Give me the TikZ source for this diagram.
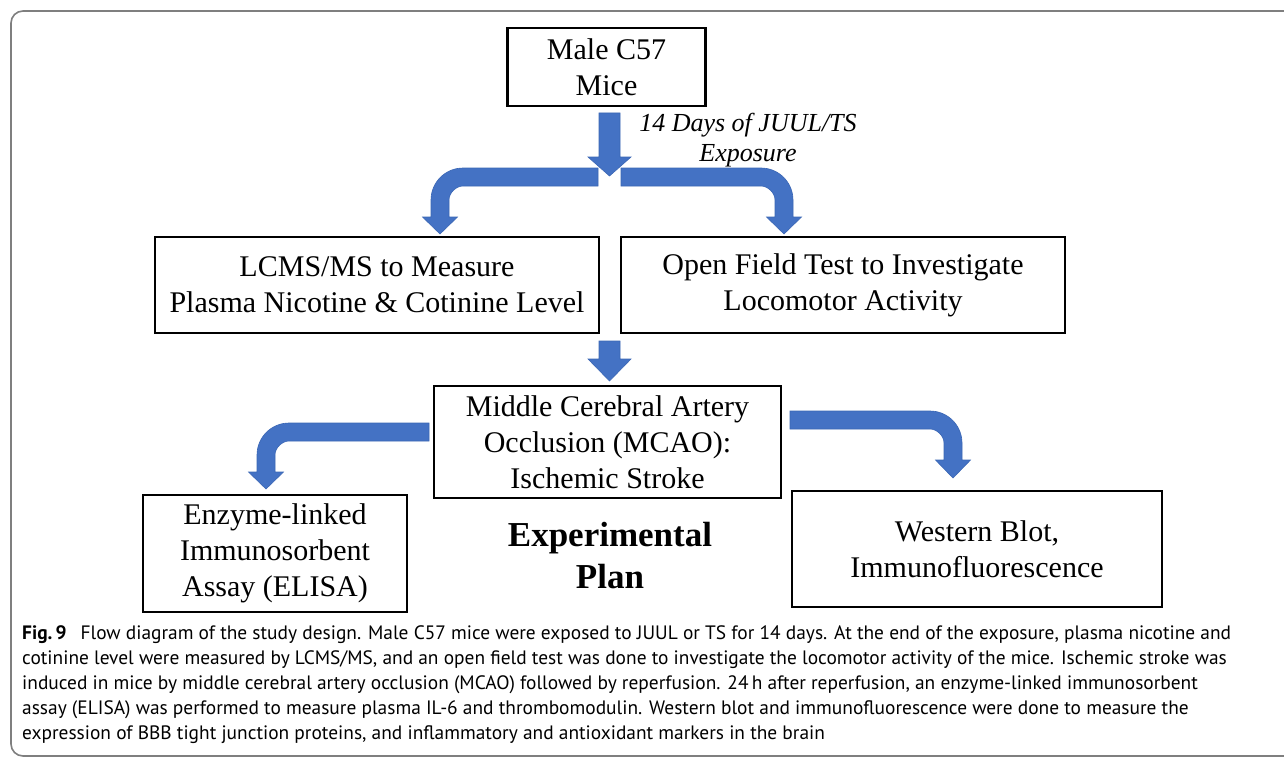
\documentclass[tikz,border=0pt]{standalone}
\usepackage{fontspec}
\setmainfont{Liberation Serif}
\newfontfamily\capfont{PT Sans}
\definecolor{arrowblue}{HTML}{4472C4}
\definecolor{arrowedge}{HTML}{3B67B5}
\definecolor{framegray}{HTML}{7F7F7F}
\tikzset{
  boxnode/.style={draw=black, line width=2.6pt, inner sep=0pt, align=center,
    font=\fontsize{30}{36}\selectfont},
  blockarrow/.style={fill=arrowblue, draw=arrowedge, line width=0.6pt, line join=miter},
  capline/.style={anchor=base west, inner sep=0pt, font=\capfont\fontsize{19.4}{25}\selectfont}
}
% straight down block arrow: #1 centre x, #2 top y, #3 head base y, #4 tip y, #5 half shaft, #6 half head
\newcommand\downarrowblock[6]{%
  \path[blockarrow] ({#1-#5},#2) -- ({#1+#5},#2) -- ({#1+#5},#3) -- ({#1+#6},#3) -- (#1,#4)
    -- ({#1-#6},#3) -- ({#1-#5},#3) -- cycle;}
% bent block arrow: #1 sign (-1 left, +1 right), #2 start x, #3 top y, #4 outer x, #5 head base y, #6 tip y
\newcommand\bentarrow[6]{%
  \path[blockarrow] (#2,#3) -- ({#4-#1*32},#3)
    .. controls ({#4-#1*14.3},#3) and (#4,{#3+14.3}) .. (#4,{#3+32})
    -- (#4,#5) -- ({#4+#1*8.5},#5) -- ({#4-#1*9},#6) -- ({#4-#1*26.5},#5) -- ({#4-#1*18},#5)
    -- ({#4-#1*18},{#3+18+14}) .. controls ({#4-#1*18},{#3+18+6.3}) and ({#4-#1*(18+7.7)},{#3+18}) .. ({#4-#1*(18+14)},{#3+18})
    -- (#2,{#3+18}) -- cycle;}
\begin{document}
\begin{tikzpicture}[x=1pt,y=-1pt]
\useasboundingbox (0,0) rectangle (1284,757);
\fill[white] (0,0) rectangle (1284,757);
\begin{scope}
  \clip (0,0) rectangle (1284,757);
  \draw[framegray, line width=1.6pt, rounded corners=12pt] (1300,11) -- (11,11) -- (11,756) -- (1300,756);
\end{scope}

% boxes
\node[boxnode, minimum width=198pt, minimum height=78pt] (male) at (606.5,67) {Male C57\\Mice};
\node[boxnode, minimum width=444pt, minimum height=96pt] (lcms) at (377,285) {LCMS/MS to Measure\\Plasma Nicotine \& Cotinine Level};
\node[boxnode, minimum width=444pt, minimum height=96pt] (open) at (843,285) {Open Field Test to Investigate\\Locomotor Activity};
\node[boxnode, minimum width=347pt, minimum height=112pt] (mcao) at (607.5,442) {Middle Cerebral Artery\\Occlusion (MCAO):\\Ischemic Stroke};
\node[boxnode, minimum width=264pt, minimum height=117pt] (elisa) at (275,553.5) {Enzyme-linked\\Immunosorbent\\Assay (ELISA)};
\node[boxnode, minimum width=370pt, minimum height=116pt] (western) at (977,549) {Western Blot,\\Immunofluorescence};

% labels
\node[inner sep=0pt, align=center, font=\itshape\fontsize{26}{30}\selectfont] (exposure) at (748,140) {14 Days of JUUL/TS\\Exposure};
\node[inner sep=0pt, align=center, font=\bfseries\fontsize{35}{42}\selectfont] (plan) at (610,556) {Experimental\\Plan};

% block arrows
\downarrowblock{609.5}{113}{157}{176}{10.5}{21.5}
\bentarrow{-1}{598}{168}{431}{217}{234}
\bentarrow{1}{621}{168}{793}{217}{234}
\downarrowblock{609.5}{341}{359}{381}{10.5}{21.5}
\bentarrow{-1}{429}{423}{257}{472}{489}
\bentarrow{1}{790}{411}{962}{460}{478}

% caption
\node[capline] (cap1) at (22,639) {{\bfseries Fig.\,9}\hspace{0.45em} Flow diagram of the study design. Male C57 mice were exposed to JUUL or TS for 14 days. At the end of the exposure, plasma nicotine and};
\node[capline] (cap2) at (22,664) {cotinine level were measured by LCMS/MS, and an open field test was done to investigate the locomotor activity of the mice. Ischemic stroke was};
\node[capline] (cap3) at (22,689) {induced in mice by middle cerebral artery occlusion (MCAO) followed by reperfusion. 24\,h after reperfusion, an enzyme-linked immunosorbent};
\node[capline] (cap4) at (22,714) {assay (ELISA) was performed to measure plasma IL-6 and thrombomodulin. Western blot and immunofluorescence were done to measure the};
\node[capline] (cap5) at (22,739) {expression of BBB tight junction proteins, and inflammatory and antioxidant markers in the brain};
\end{tikzpicture}
\end{document}
